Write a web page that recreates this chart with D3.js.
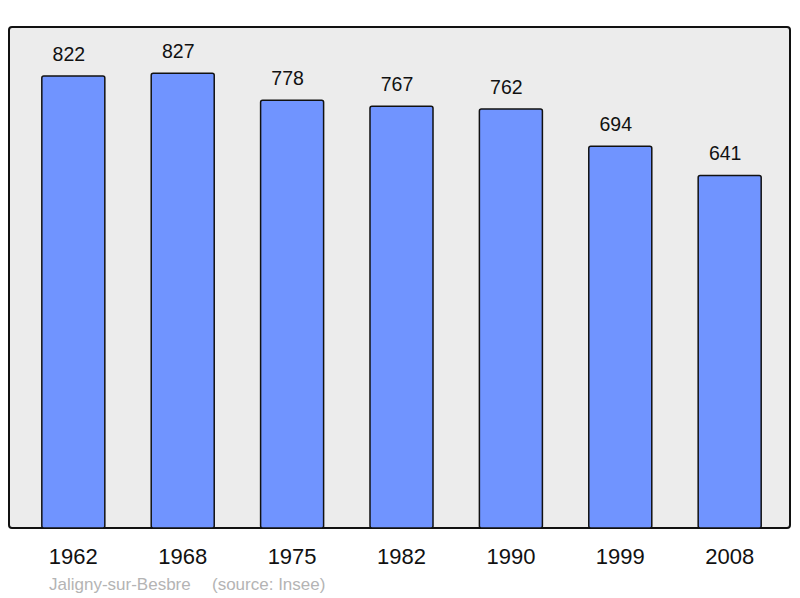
<!DOCTYPE html>
<html>
<head>
<meta charset="utf-8">
<script src="https://d3js.org/d3.v7.min.js"></script>
<style>
  body { margin: 0; background: #fff; }
  text { font-family: "Liberation Sans", Arial, sans-serif; }
</style>
</head>
<body>
<script>
// population data
var years = ["1962", "1968", "1975", "1982", "1990", "1999", "2008"];
var population = [822, 827, 778, 767, 762, 694, 641];
var commune = "Jaligny-sur-Besbre";
var source = "(source: Insee)";

var width = 800, height = 598;
var frame = { left: 9, top: 27, right: 790, bottom: 528 };

var svg = d3.select("body").append("svg")
    .attr("width", width)
    .attr("height", height);

// background frame
svg.append("rect")
    .attr("x", frame.left)
    .attr("y", frame.top)
    .attr("width", frame.right - frame.left)
    .attr("height", frame.bottom - frame.top)
    .attr("rx", 3)
    .attr("fill", "#ececec")
    .attr("stroke", "#111")
    .attr("stroke-width", 2);

var x = d3.scaleBand()
    .domain(years)
    .range([9, 794])
    .paddingInner(0.424)
    .paddingOuter(0.3);

var y = d3.scaleLinear()
    .domain([0, 911])
    .range([frame.bottom, frame.top]);

var data = years.map(function(yr, i){ return { year: yr, value: population[i] }; });

svg.selectAll(".bar")
    .data(data)
    .enter().append("rect")
    .attr("class", "bar")
    .attr("x", function(d){ return x(d.year); })
    .attr("y", function(d){ return y(d.value); })
    .attr("width", x.bandwidth())
    .attr("height", function(d){ return frame.bottom - y(d.value); })
    .attr("rx", 2)
    .attr("fill", "#7094ff")
    .attr("stroke", "#111")
    .attr("stroke-width", 1.5);

// value labels (sit a little left of the bar centre)
svg.selectAll(".val")
    .data(data)
    .enter().append("text")
    .attr("class", "val")
    .attr("x", function(d){ return x(d.year) + x.bandwidth() / 2 - 4.5; })
    .attr("y", function(d){ return y(d.value) - 15; })
    .attr("text-anchor", "middle")
    .attr("font-size", 19.5)
    .attr("fill", "#111")
    .text(function(d){ return d.value; });

// year axis (labels only)
var xAxis = d3.axisBottom(x).tickSize(0).tickPadding(0);
var gx = svg.append("g")
    .attr("transform", "translate(0,564)")
    .call(xAxis);
gx.select(".domain").remove();
gx.selectAll("text")
    .attr("font-size", 22)
    .attr("font-family", "Liberation Sans, Arial, sans-serif")
    .attr("fill", "#111")
    .attr("dy", 0);

// footer
svg.append("text")
    .attr("x", 49)
    .attr("y", 590)
    .attr("font-size", 17)
    .attr("fill", "#b4b4b4")
    .text(commune);
svg.append("text")
    .attr("x", 212)
    .attr("y", 590)
    .attr("font-size", 17)
    .attr("fill", "#b4b4b4")
    .text(source);
</script>
</body>
</html>
